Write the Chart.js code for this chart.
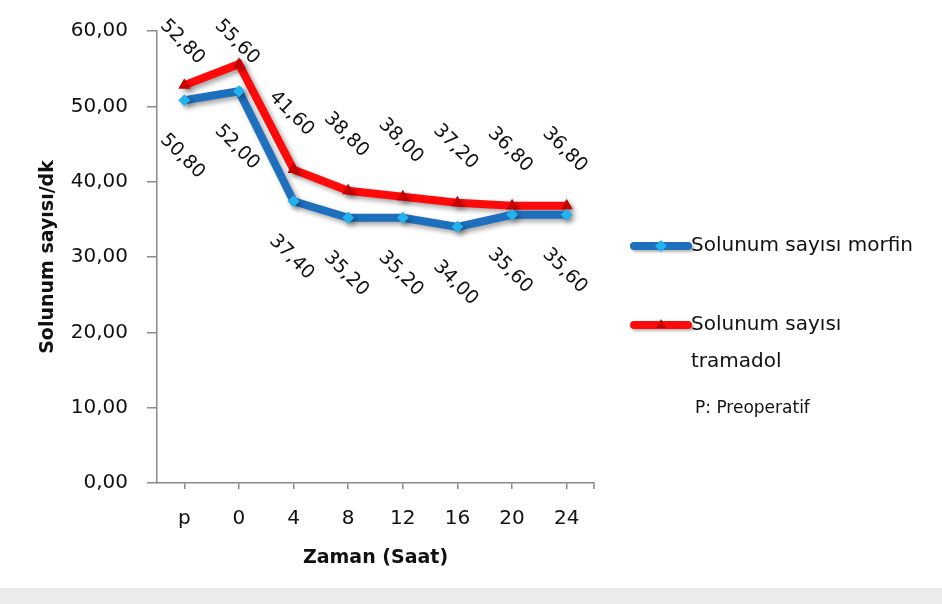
<!DOCTYPE html>
<html lang="tr">
<head>
<meta charset="utf-8">
<title>Solunum sayısı</title>
<script src="https://cdn.jsdelivr.net/npm/chart.js@4.4.1/dist/chart.umd.min.js"></script>
<style>
  html, body { margin: 0; padding: 0; background: #ffffff; }
  #wrap { position: relative; width: 942px; height: 604px; }
  canvas { display: block; }
</style>
</head>
<body>
<div id="wrap"><canvas id="c" width="942" height="604"></canvas></div>
<script>
// Zaman noktaları (p = preoperatif)
const categories = ['p', '0', '4', '8', '12', '16', '20', '24'];
// Solunum sayısı / dk
const morfin = [50.80, 52.00, 37.40, 35.20, 35.20, 34.00, 35.60, 35.60];
const tramadol = [52.80, 55.60, 41.60, 38.80, 38.00, 37.20, 36.80, 36.80];
const seriesNames = ['Solunum sayısı morfin', 'Solunum sayısı tramadol'];
const yTicks = [0, 10, 20, 30, 40, 50, 60];

const FONT = '"DejaVu Sans", sans-serif';
const TEXT = '#111111';
const AXIS = '#8a8a8a';
const BLUE = '#1f6fbf';
const BLUE_MARK = '#22b2ee';
const RED = '#ff0a0a';
const RED_MARK = '#c40000';

const fmt = v => v.toFixed(2).replace('.', ',');

// background: white with a light grey strip at the bottom
const backgroundPlugin = {
  id: 'bg',
  beforeDraw(chart) {
    const ctx = chart.ctx;
    ctx.save();
    ctx.fillStyle = '#ffffff';
    ctx.fillRect(0, 0, chart.width, chart.height);
    ctx.fillStyle = '#ebebeb';
    ctx.fillRect(0, 588, chart.width, chart.height - 588);
    ctx.restore();
  }
};

// soft drop shadow under the lines
const shadowPlugin = {
  id: 'lineShadow',
  beforeDatasetDraw(chart) {
    const ctx = chart.ctx;
    ctx.save();
    ctx.shadowColor = 'rgba(0,0,0,0.35)';
    ctx.shadowBlur = 5;
    ctx.shadowOffsetX = 3;
    ctx.shadowOffsetY = 3;
  },
  afterDatasetDraw(chart) {
    chart.ctx.restore();
  }
};

// rotated value labels: tramadol above the points, morfin below
const valueLabelPlugin = {
  id: 'valueLabels',
  afterDatasetsDraw(chart) {
    const ctx = chart.ctx;
    ctx.save();
    ctx.font = '19px ' + FONT;
    ctx.fillStyle = TEXT;
    ctx.textAlign = 'center';
    ctx.textBaseline = 'middle';
    chart.data.datasets.forEach((ds, i) => {
      const meta = chart.getDatasetMeta(i);
      meta.data.forEach((pt, j) => {
        const above = i === 1;
        let cy = above ? pt.y - 56 : pt.y + 56;
        if (above) cy = Math.max(cy, 42);
        ctx.save();
        ctx.translate(pt.x - 2, cy);
        ctx.rotate(Math.PI / 4);
        ctx.fillText(fmt(ds.data[j]), 0, 0);
        ctx.restore();
      });
    });
    ctx.restore();
  }
};

// closing tick at the right end of the category axis
const endTickPlugin = {
  id: 'endTick',
  afterDraw(chart) {
    const { ctx, chartArea } = chart;
    ctx.save();
    ctx.strokeStyle = AXIS;
    ctx.lineWidth = 1.5;
    ctx.beginPath();
    ctx.moveTo(chartArea.right, chartArea.bottom);
    ctx.lineTo(chartArea.right, chartArea.bottom + 6);
    ctx.stroke();
    ctx.restore();
  }
};

// legend and note on the right-hand side
const sideLegendPlugin = {
  id: 'sideLegend',
  afterDraw(chart) {
    const ctx = chart.ctx;
    const items = [
      { y: 246, color: BLUE, mark: BLUE_MARK, style: 'rectRot', lines: [seriesNames[0]] },
      { y: 325, color: RED, mark: RED_MARK, style: 'triangle', lines: ['Solunum sayısı', 'tramadol'] }
    ];
    ctx.save();
    items.forEach(it => {
      ctx.save();
      ctx.shadowColor = 'rgba(0,0,0,0.3)';
      ctx.shadowBlur = 3;
      ctx.shadowOffsetX = 2;
      ctx.shadowOffsetY = 2;
      ctx.strokeStyle = it.color;
      ctx.lineWidth = 8;
      ctx.lineCap = 'round';
      ctx.beginPath();
      ctx.moveTo(634, it.y);
      ctx.lineTo(688, it.y);
      ctx.stroke();
      ctx.restore();
      ctx.save();
      ctx.fillStyle = it.mark;
      Chart.helpers.drawPoint(ctx, { pointStyle: it.style, radius: 6, rotation: 0, borderWidth: 0 }, 661, it.y);
      ctx.restore();
      ctx.fillStyle = TEXT;
      ctx.font = '20px ' + FONT;
      ctx.textAlign = 'left';
      ctx.textBaseline = 'middle';
      it.lines.forEach((t, k) => ctx.fillText(t, 691, it.y + k * 37));
    });
    ctx.font = '17px ' + FONT;
    ctx.fillStyle = TEXT;
    ctx.textBaseline = 'middle';
    ctx.fillText('P: Preoperatif', 695, 409);
    ctx.restore();
  }
};

new Chart(document.getElementById('c'), {
  type: 'line',
  data: {
    labels: categories,
    datasets: [
      {
        label: seriesNames[0],
        data: morfin,
        borderColor: BLUE,
        borderWidth: 8,
        backgroundColor: BLUE_MARK,
        pointStyle: 'rectRot',
        pointRadius: 6,
        pointBorderWidth: 0,
        pointBackgroundColor: BLUE_MARK,
        tension: 0,
        fill: false
      },
      {
        label: seriesNames[1],
        data: tramadol,
        borderColor: RED,
        borderWidth: 8,
        backgroundColor: RED_MARK,
        pointStyle: 'triangle',
        pointRadius: 7,
        pointBorderWidth: 0,
        pointBackgroundColor: RED_MARK,
        tension: 0,
        fill: false
      }
    ]
  },
  options: {
    responsive: false,
    animation: false,
    devicePixelRatio: 1,
    layout: { padding: { top: 30, right: 348, left: 0, bottom: 0 } },
    plugins: {
      legend: { display: false },
      tooltip: { enabled: false }
    },
    scales: {
      x: {
        offset: true,
        grid: {
          offset: false,
          drawOnChartArea: false,
          drawTicks: true,
          tickLength: 6,
          color: AXIS,
          lineWidth: 1.5
        },
        border: { display: true, color: AXIS, width: 1.5 },
        ticks: {
          color: TEXT,
          font: { family: FONT, size: 20 },
          padding: 18,
          maxRotation: 0,
          autoSkip: false
        },
        title: {
          display: true,
          text: 'Zaman (Saat)',
          color: TEXT,
          font: { family: FONT, size: 19, weight: 'bold' },
          padding: { top: 0, bottom: 35 }
        },
        afterFit(scale) { scale.height = 121; }
      },
      y: {
        min: 0,
        max: 60,
        afterBuildTicks(scale) { scale.ticks = yTicks.map(v => ({ value: v })); },
        grid: {
          drawOnChartArea: false,
          drawTicks: true,
          tickLength: 10,
          color: AXIS,
          lineWidth: 1.5
        },
        border: { display: true, color: AXIS, width: 1.5 },
        ticks: {
          color: TEXT,
          font: { family: FONT, size: 20 },
          padding: 19,
          callback: v => fmt(v)
        },
        title: {
          display: true,
          text: 'Solunum sayısı/dk',
          color: TEXT,
          font: { family: FONT, size: 19, weight: 'bold' },
          padding: { top: 37, bottom: 0 }
        },
        afterFit(scale) { scale.width = 157; }
      }
    }
  },
  plugins: [backgroundPlugin, shadowPlugin, valueLabelPlugin, endTickPlugin, sideLegendPlugin]
});
</script>
</body>
</html>
